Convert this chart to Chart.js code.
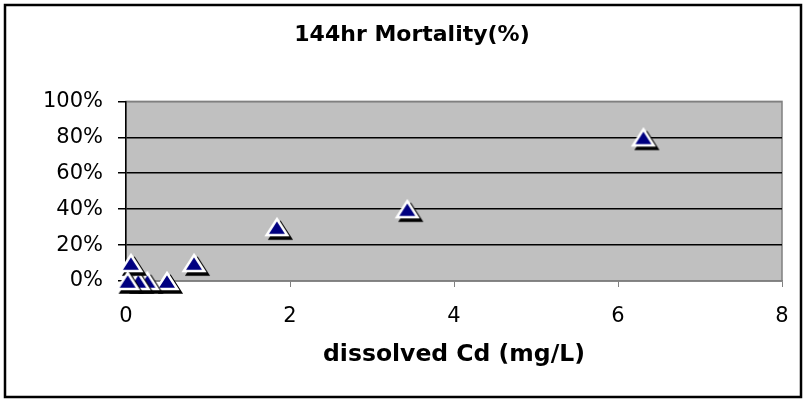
<!DOCTYPE html>
<html>
<head>
<meta charset="utf-8">
<script src="https://cdn.jsdelivr.net/npm/chart.js@4/dist/chart.umd.min.js"></script>
<style>
  body { margin: 0; background: #fff; }
  canvas { display: block; }
</style>
</head>
<body>
<canvas id="myChart" width="809" height="400"></canvas>
<script>
// dissolved Cd (mg/L) vs 144hr mortality (%)
var concentration = [6.31, 3.43, 1.84, 0.83, 0.50, 0.26, 0.15, 0.06, 0.02];
var mortality = [80, 40, 30, 10, 0, 0, 0, 10, 0];
var yTicks = [0, 20, 40, 60, 80, 100];
var xTicks = [0, 2, 4, 6, 8];

var points = [];
for (var i = 0; i < concentration.length; i++) {
  points.push({ x: concentration[i], y: mortality[i] });
}

// excel style triangle marker: navy, white edge, black drop shadow
function makeMarker() {
  var c = document.createElement('canvas');
  c.width = 38;
  c.height = 36;
  var m = c.getContext('2d');
  var cx = 19, cy = 18, hw = 10.3, hh = 8, sh = 3.5;
  function tri(dx, dy) {
    m.beginPath();
    m.moveTo(cx + dx, cy - hh + dy);
    m.lineTo(cx + hw + dx, cy + hh + dy);
    m.lineTo(cx - hw + dx, cy + hh + dy);
    m.closePath();
  }
  tri(sh, sh);
  m.fillStyle = '#000';
  m.strokeStyle = '#000';
  m.lineWidth = 2.5;
  m.fill();
  m.stroke();
  tri(0, 0);
  m.fillStyle = '#000080';
  m.strokeStyle = '#fff';
  m.fill();
  m.stroke();
  return c;
}

// gray plot area + outer frame
var frame = {
  id: 'frame',
  beforeDraw: function(chart) {
    var ctx = chart.ctx;
    var a = chart.chartArea;
    ctx.save();
    ctx.fillStyle = '#fff';
    ctx.fillRect(0, 0, chart.width, chart.height);
    ctx.fillStyle = '#c0c0c0';
    ctx.fillRect(a.left, a.top, a.right - a.left, a.bottom - a.top);
    ctx.strokeStyle = '#808080';
    ctx.lineWidth = 1.5;
    ctx.strokeRect(a.left, a.top, a.right - a.left, a.bottom - a.top);
    ctx.strokeStyle = '#000';
    ctx.lineWidth = 2.5;
    ctx.strokeRect(5, 5, 796, 392);
    ctx.restore();
  }
};

var ctx = document.getElementById('myChart');
var chart = new Chart(ctx, {
  type: 'scatter',
  data: {
    datasets: [{
      label: '144hr Mortality(%)',
      data: points,
      clip: false,
      pointStyle: makeMarker(),
      pointRadius: 10,
      pointHoverRadius: 10
    }]
  },
  options: {
    responsive: false,
    animation: false,
    layout: { padding: { left: 42, right: 27, top: 6, bottom: 8 } },
    plugins: {
      legend: { display: false },
      tooltip: { enabled: false },
      title: {
        display: true,
        text: '144hr Mortality(%)',
        color: '#000',
        font: { family: 'DejaVu Sans', size: 22, weight: 'bold' },
        padding: { top: 16, bottom: 53 }
      }
    },
    scales: {
      x: {
        type: 'linear',
        min: 0,
        max: 8,
        afterBuildTicks: function(axis) {
          axis.ticks = xTicks.map(function(v) { return { value: v }; });
        },
        afterFit: function(axis) { axis.height = 111; },
        grid: { drawOnChartArea: false, drawTicks: true, tickLength: 6, tickColor: '#808080' },
        border: { color: '#808080', width: 1.5 },
        ticks: {
          color: '#000',
          padding: 17,
          font: { family: 'DejaVu Sans', size: 21 }
        },
        title: {
          display: true,
          text: 'dissolved Cd (mg/L)',
          color: '#000',
          font: { family: 'DejaVu Sans', size: 23.5, weight: 'bold' },
          padding: { top: 0, bottom: 23 }
        }
      },
      y: {
        min: 0,
        max: 100,
        afterBuildTicks: function(axis) {
          axis.ticks = yTicks.map(function(v) { return { value: v }; });
        },
        afterFit: function(axis) { axis.width = 84; },
        grid: {
          color: function(c) { return (c.tick && (c.tick.value === 100 || c.tick.value === 0)) ? '#808080' : '#000'; },
          lineWidth: 1.5,
          tickLength: 8,
          tickColor: '#000'
        },
        border: { color: '#000', width: 1.5 },
        ticks: {
          color: '#000',
          padding: 15,
          font: { family: 'DejaVu Sans', size: 21 },
          callback: function(v) { return v + '%'; }
        }
      }
    }
  },
  plugins: [frame]
});
</script>
</body>
</html>
